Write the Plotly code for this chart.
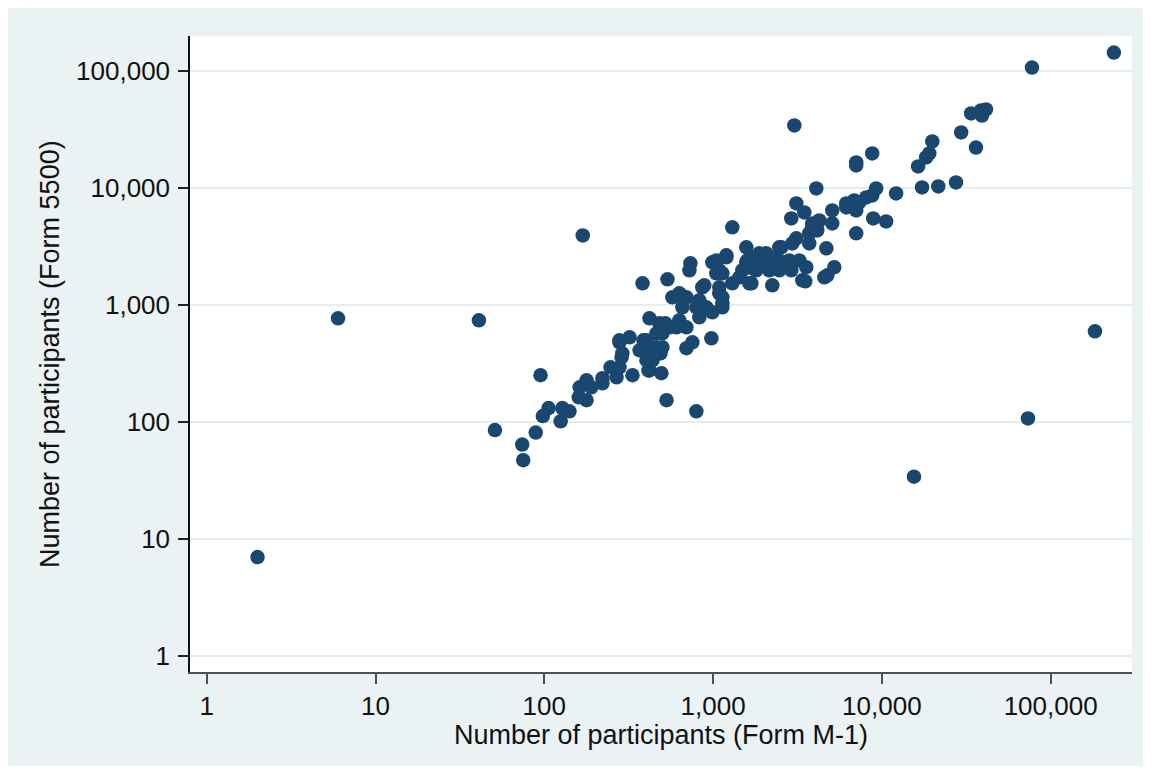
import plotly.graph_objects as go

# Number of participants (Form M-1) vs (Form 5500)
m1_participants = [
    2, 6, 41, 51, 95, 169, 3030, 237000, 77500, 183000, 73400, 15500, 796, 530,
    74, 75, 89, 98, 106, 125, 128, 141, 162, 160, 178, 178, 190, 221, 221, 247,
    268, 287, 279, 320, 333, 367,
    382, 387, 387, 420, 414, 438, 462, 488, 494, 537, 501, 522, 574, 631, 658,
    695, 734, 631, 607, 695, 754, 796, 829, 829, 863, 912, 977, 990, 1045, 990,
    1199, 1089, 1135, 1135, 1300, 1300, 1432, 1574, 1596,
    724, 649, 887, 1045, 1089, 1135, 1687, 481, 551, 695, 462, 438, 501, 403,
    279, 290, 279, 420, 403,
    3114, 3471, 2906, 3871, 4260, 5083, 5083, 6155, 7048, 8886, 7048, 4690,
    3714, 3714, 4144, 3114, 2948, 2537, 1199, 1710, 2066, 2244, 2468, 1879,
    1574, 1491, 1803, 2153, 2468, 2906, 3243, 3567, 3377, 2244, 1641, 1135,
    1089, 4562, 5226, 4088, 6155, 4144, 3817, 1879, 2066, 2829, 1710, 4754,
    6857, 9252, 12150, 17300, 21600, 27500, 16400, 19100, 19900, 29500, 36100,
    33800, 38700, 41400, 39200, 7048, 7048, 8765, 10600, 18300, 3518, 2468,
    3871, 6672, 7342, 8075, 8765,
]
f5500_participants = [
    7, 766, 736, 85, 250, 3910, 34000, 142500, 106000, 593, 107, 34, 123, 153,
    64, 47, 81, 112, 131, 101, 131, 123, 197, 162, 226, 153, 197, 236, 213, 292,
    240, 356, 497, 527, 250, 408,
    1524, 497, 408, 766, 275, 336, 433, 385, 260, 1648, 570, 694, 1156, 1251,
    951, 1156, 2260, 736, 641, 425, 478, 951, 1091, 781, 1407, 951, 517, 861,
    2390, 2300, 2540, 1967, 1156, 951, 4580, 1524, 1714, 3090, 2390,
    1967, 1203, 1465, 1855, 1407, 1029, 1524, 694, 641, 641, 570, 408, 433, 497,
    478, 385, 292, 275, 336,
    7330, 6140, 5460, 4950, 5250, 6390, 4950, 6780, 6390, 5460, 4070, 3030,
    4070, 3340, 4310, 3690, 3340, 3090, 2640, 2540, 2750, 2490, 2390, 2300,
    2300, 1967, 1967, 1967, 1967, 1967, 2390, 2090, 1615, 1465, 1524, 1855,
    1251, 1714, 2090, 9850, 7330, 4950, 4310, 2750, 2260, 2390, 2045, 1783,
    7780, 9850, 8930, 10040, 10240, 11070, 15170, 19580, 24800, 29600, 22000,
    43000, 45600, 46500, 41300, 16400, 15460, 19580, 5150, 18100, 1585, 3090,
    4580, 7050, 7480, 8250, 8580,
]

tick_vals = [1, 10, 100, 1000, 10000, 100000]
tick_text = ["1", "10", "100", "1,000", "10,000", "100,000"]

x_title = "Number of participants (Form M-1)"
y_title = "Number of participants (Form 5500)"

FONT = "Liberation Sans, Arial, Helvetica, sans-serif"
BG = "#EAF2F3"
GRID = "#E4EDF0"
NAVY = "#1A476F"
FS = 26

fig = go.Figure()
fig.add_trace(go.Scatter(
    x=m1_participants, y=f5500_participants, mode="markers",
    marker=dict(size=14.5, color=NAVY, line=dict(width=0)),
    hoverinfo="x+y", showlegend=False,
))

# page has an 8px body margin; figure sized so the page is exactly 1151x774
W, H = 1135, 758
L, R, T, B = 182, 11, 28, 94
pw, ph = W - L - R, H - T - B
OFF = 8

def px_x(p):  # page pixel -> paper x
    return (p - OFF - L) / pw

def px_y(q):  # page pixel -> paper y
    return (H - B - (q - OFF)) / ph

fig.update_layout(
    width=W, height=H,
    margin=dict(l=L, r=R, t=T, b=B, autoexpand=False),
    paper_bgcolor=BG,
    plot_bgcolor="white",
    font=dict(family=FONT, size=FS, color="#111111"),
    annotations=[
        dict(text=x_title, xref="paper", yref="paper", x=0.5, y=px_y(735),
             xanchor="center", yanchor="middle", showarrow=False,
             font=dict(family=FONT, size=FS + 1, color="#111111")),
        dict(text=y_title, xref="paper", yref="paper", x=px_x(50), y=0.5,
             xanchor="center", yanchor="middle", showarrow=False, textangle=-90,
             font=dict(family=FONT, size=FS + 1, color="#111111")),
    ],
)

fig.update_xaxes(
    type="log", range=[-0.099, 5.482],
    tickvals=tick_vals, ticktext=tick_text,
    showgrid=False, zeroline=False,
    showline=True, linecolor="#505050", linewidth=1.5,
    ticks="outside", ticklen=10, tickwidth=1.5, tickcolor="#505050",
    ticklabelstandoff=0,
    tickfont=dict(family=FONT, size=FS, color="#111111"),
    automargin=False,
)
fig.update_yaxes(
    type="log", range=[-0.1366, 5.295],
    tickvals=tick_vals, ticktext=tick_text,
    showgrid=True, gridcolor=GRID, gridwidth=1.5,
    zeroline=False,
    showline=True, linecolor="#111111", linewidth=1.5,
    ticks="outside", ticklen=10, tickwidth=1.5, tickcolor="#222222",
    ticklabelstandoff=3,
    tickfont=dict(family=FONT, size=FS, color="#111111"),
    automargin=False,
)

fig.write_html("out.html")
